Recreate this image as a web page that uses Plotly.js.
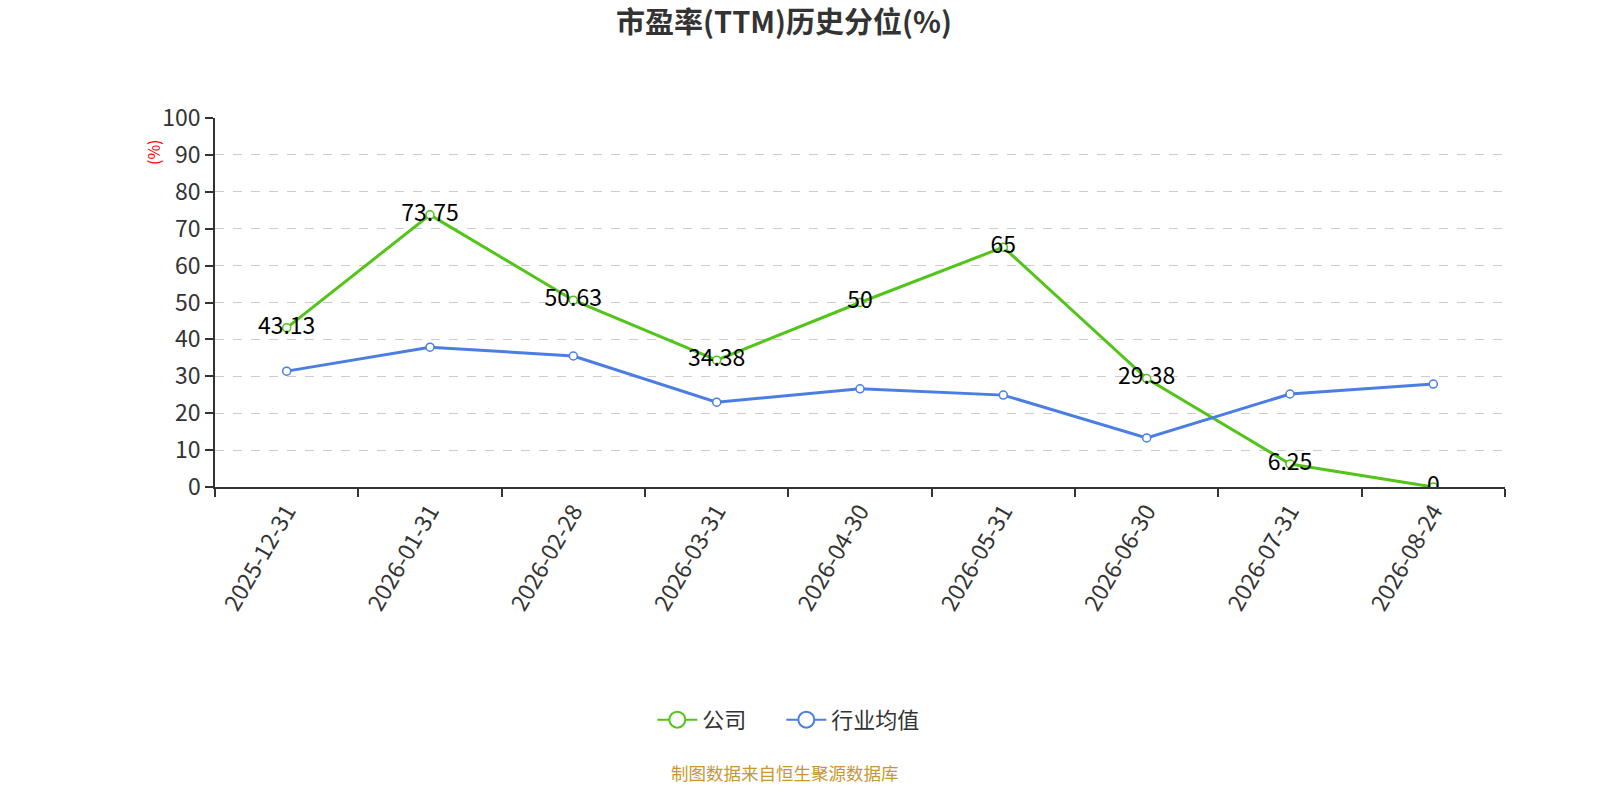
<!DOCTYPE html>
<html>
<head>
<meta charset="utf-8">
<script src="https://cdn.plot.ly/plotly-3.0.1.min.js"></script>
<style>
    html, body { margin: 0; padding: 0; background: #fff; }
    #chart { width: 1600px; height: 800px; }
</style>
</head>
<body>
<div id="chart"></div>
<script>
var dates = ['2025-12-31', '2026-01-31', '2026-02-28', '2026-03-31', '2026-04-30',
    '2026-05-31', '2026-06-30', '2026-07-31', '2026-08-24'];
var company = [43.13, 73.75, 50.63, 34.38, 50, 65, 29.38, 6.25, 0];
var industry = [31.4, 37.9, 35.5, 23.0, 26.6, 24.9, 13.3, 25.2, 27.9];
var seriesNames = ['公司', '行业均值'];

var fontFamily = '"Noto Sans CJK SC", "Microsoft YaHei", sans-serif';
var green = '#52c41a';
var blue = '#4a7ee3';

function lineTrace(name, values, color, withText) {
    var t = {
        x: dates,
        y: values,
        name: name,
        legendgroup: name,
        showlegend: false,
        type: 'scatter',
        mode: withText ? 'lines+markers+text' : 'lines+markers',
        line: {color: color, width: 3},
        marker: {symbol: 'circle', size: 8, color: '#fff', line: {color: color, width: 1.5}},
        hoverinfo: 'x+y'
    };
    if (withText) {
        t.text = values.map(function (v) { return String(v); });
        t.textposition = 'middle center';
        t.textfont = {family: fontFamily, size: 23, color: '#000'};
    }
    return t;
}

// legend-only entries, so the legend circle can be bigger than the point markers
function legendTrace(name, color, legendId) {
    return {
        x: [null],
        y: [null],
        name: name,
        legendgroup: name,
        legend: legendId,
        type: 'scatter',
        mode: 'lines+markers',
        line: {color: color, width: 2},
        marker: {symbol: 'circle', size: 16, color: '#fff', line: {color: color, width: 2}},
        hoverinfo: 'skip'
    };
}

var traces = [
    lineTrace(seriesNames[0], company, green, true),
    lineTrace(seriesNames[1], industry, blue, false),
    legendTrace(seriesNames[0], green, 'legend'),
    legendTrace(seriesNames[1], blue, 'legend2')
];

function legendBox(x) {
    return {
        orientation: 'h',
        x: x, xanchor: 'left',
        y: -0.631, yanchor: 'middle',
        font: {family: fontFamily, size: 22, color: '#333'},
        itemwidth: 40,
        bgcolor: 'rgba(0,0,0,0)'
    };
}

var layout = {
    width: 1600,
    height: 800,
    margin: {l: 215, r: 95, t: 118, b: 313, pad: 0},
    paper_bgcolor: '#fff',
    plot_bgcolor: '#fff',
    font: {family: fontFamily, color: '#333'},
    showlegend: true,
    title: {
        text: '<b>市盈率(TTM)历史分位(%)</b>',
        font: {family: fontFamily, size: 29, color: '#333'},
        x: 0.49, xref: 'container', xanchor: 'center',
        y: 0.972, yref: 'container', yanchor: 'middle'
    },
    xaxis: {
        type: 'category',
        range: [-0.5, 8.5],
        tickson: 'boundaries',
        ticks: 'outside',
        ticklen: 8,
        tickwidth: 1.5,
        tickcolor: '#333',
        tickangle: -60,
        tickfont: {family: fontFamily, size: 23, color: '#333'},
        showline: true,
        linecolor: '#333',
        linewidth: 1.5,
        showgrid: false,
        zeroline: false,
        fixedrange: true
    },
    yaxis: {
        range: [0, 100],
        dtick: 10,
        ticks: 'outside',
        ticklen: 8,
        tickwidth: 1.5,
        tickcolor: '#333',
        tickfont: {family: fontFamily, size: 23, color: '#333'},
        showline: true,
        linecolor: '#333',
        linewidth: 1.5,
        showgrid: true,
        gridcolor: '#ccc',
        griddash: 'dash',
        gridwidth: 1,
        zeroline: false,
        fixedrange: true
    },
    legend: legendBox(0.339),
    legend2: legendBox(0.439),
    annotations: [
        {
            text: '(%)',
            xref: 'paper', yref: 'paper',
            x: -0.048, y: 0.908,
            xanchor: 'center', yanchor: 'middle',
            textangle: -90,
            showarrow: false,
            font: {family: fontFamily, size: 16, color: '#ff0000'}
        },
        {
            text: '制图数据来自恒生聚源数据库',
            xref: 'paper', yref: 'paper',
            x: 0.442, y: -0.775,
            xanchor: 'center', yanchor: 'middle',
            showarrow: false,
            font: {family: fontFamily, size: 17.5, color: '#c8982e'}
        }
    ]
};

Plotly.newPlot('chart', traces, layout, {displayModeBar: false, responsive: false});
</script>
</body>
</html>
